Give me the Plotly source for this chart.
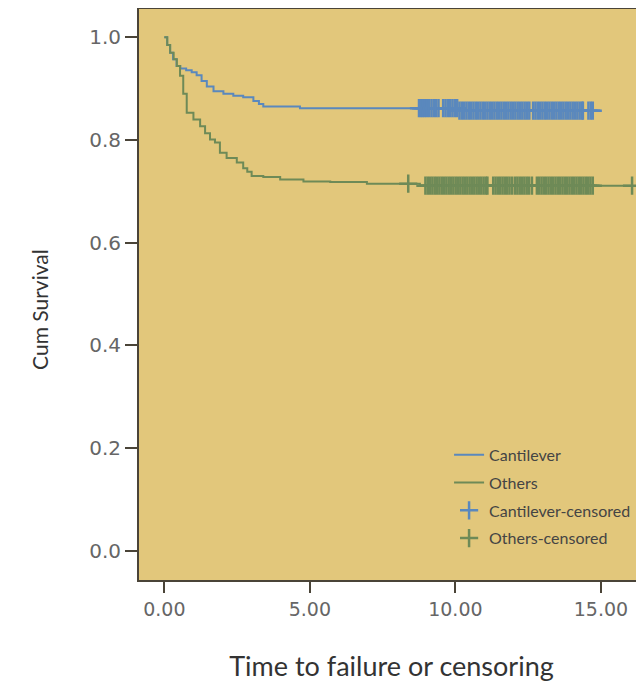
import plotly.graph_objects as go

# Kaplan-Meier step curves (time, cumulative survival)
cant_time = [0.0, 0.1, 0.2, 0.3, 0.42, 0.55, 0.75, 0.94, 1.11, 1.28, 1.46, 1.69, 2.03, 2.37, 2.71, 3.06, 3.25, 3.40, 4.66, 10.1, 15.0]
cant_surv = [1.0, 0.985, 0.97, 0.957, 0.944, 0.939, 0.936, 0.932, 0.926, 0.915, 0.904, 0.895, 0.890, 0.886, 0.883, 0.876, 0.870, 0.865, 0.862, 0.857, 0.857]

oth_time = [0.0, 0.1, 0.2, 0.32, 0.43, 0.54, 0.65, 0.77, 1.0, 1.23, 1.4, 1.57, 1.74, 1.91, 2.14, 2.49, 2.71, 2.85, 3.0, 3.4, 3.98, 4.78, 5.7, 6.96, 8.78, 16.07]
oth_surv = [1.0, 0.985, 0.97, 0.957, 0.944, 0.925, 0.89, 0.853, 0.840, 0.827, 0.813, 0.801, 0.795, 0.775, 0.765, 0.756, 0.745, 0.738, 0.730, 0.728, 0.723, 0.719, 0.718, 0.715, 0.711, 0.711]

# Censored observation times
cant_cens_time = [8.75, 8.82, 8.88, 8.95,
                  9.02, 9.1, 9.18, 9.26, 9.34, 9.42,
                  9.58, 9.66, 9.74, 9.82, 9.9, 9.98, 10.06, 10.14, 10.22, 10.3, 10.38, 10.46,
                  10.54, 10.62, 10.7, 10.78, 10.86, 10.94, 11.02, 11.1, 11.18, 11.26, 11.34,
                  11.42, 11.5, 11.58, 11.66, 11.74, 11.82, 11.9, 11.98, 12.06, 12.14, 12.22,
                  12.3, 12.38, 12.46, 12.54,
                  12.67, 12.75, 12.83, 12.91, 12.99, 13.07, 13.15, 13.23, 13.31, 13.39, 13.47,
                  13.55, 13.63, 13.71, 13.79, 13.87, 13.95, 14.03, 14.11, 14.19, 14.27, 14.35, 14.38,
                  14.57, 14.65, 14.72, 14.79,
                  14.97]
cant_cens_surv = [0.862] * 4 + [0.862] * 6 + [0.862] * 7 + [0.857] * 56 + [0.857]

oth_cens_time = [8.38,
                 8.97, 9.05, 9.13, 9.21, 9.29, 9.37, 9.45, 9.53, 9.61, 9.69, 9.77, 9.85, 9.93,
                 10.01, 10.09, 10.17, 10.25, 10.33, 10.41, 10.49, 10.57, 10.65, 10.73, 10.81,
                 10.89, 10.97, 11.05, 11.1,
                 11.3, 11.38, 11.46, 11.54, 11.62, 11.7, 11.78, 11.86, 11.95,
                 12.05, 12.13, 12.21, 12.29, 12.37, 12.45, 12.53, 12.63,
                 12.8, 12.88, 12.96, 13.04, 13.12, 13.2, 13.28, 13.36, 13.44, 13.52, 13.6,
                 13.68, 13.76, 13.84, 13.92, 14.0, 14.08, 14.16, 14.24, 14.32, 14.4, 14.48,
                 14.56, 14.64, 14.72,
                 16.07]
oth_cens_surv = [0.715] + [0.711] * (len(oth_cens_time) - 1)

x_tickvals = [0, 5, 10, 15]
x_ticktext = ["0.00", "5.00", "10.00", "15.00"]
y_tickvals = [0.0, 0.2, 0.4, 0.6, 0.8, 1.0]
y_ticktext = ["0.0", "0.2", "0.4", "0.6", "0.8", "1.0"]

blue = "#5a88bd"
green = "#6e8a57"
axis_col = "#4a4438"
title_font = "Lato, Open Sans, sans-serif"

fig = go.Figure()
fig.add_trace(go.Scatter(x=cant_time, y=cant_surv, mode="lines", line_shape="hv",
                         line=dict(color=blue, width=2), name="Cantilever", legendgroup="a"))
fig.add_trace(go.Scatter(x=oth_time, y=oth_surv, mode="lines", line_shape="hv",
                         line=dict(color=green, width=2), name="Others", legendgroup="b"))
fig.add_trace(go.Scatter(x=cant_cens_time, y=cant_cens_surv, mode="markers",
                         marker=dict(symbol="cross-thin", size=13, line=dict(color=blue, width=2.5)),
                         name="Cantilever-censored", legendgroup="c"))
fig.add_trace(go.Scatter(x=oth_cens_time, y=oth_cens_surv, mode="markers",
                         marker=dict(symbol="cross-thin", size=13, line=dict(color=green, width=2.5)),
                         name="Others-censored", legendgroup="d"))

fig.add_annotation(text="Cum Survival", xref="paper", yref="paper", x=-0.196, y=0.473,
                   xanchor="center", yanchor="middle", textangle=-90, showarrow=False,
                   font=dict(family=title_font, size=21, color="#333"))

fig.update_layout(
    width=636, height=676,
    margin=dict(l=131, r=0, t=1, b=104),
    paper_bgcolor="white",
    plot_bgcolor="#e2c77b",
    showlegend=True,
    legend=dict(x=0.614, y=0.249, xanchor="left", yanchor="top",
                bgcolor="rgba(0,0,0,0)", font=dict(family=title_font, size=16, color="#444"),
                tracegroupgap=4, itemwidth=30),
    xaxis=dict(range=[-0.87, 16.48], tickvals=x_tickvals, ticktext=x_ticktext,
               showgrid=False, zeroline=False, showline=True, linecolor=axis_col, linewidth=2,
               mirror=True, ticks="outside", ticklen=11, tickwidth=2, tickcolor=axis_col,
               tickfont=dict(family="DejaVu Sans", size=19, color="#666"),
               title=dict(text="Time to failure or censoring", standoff=38,
                          font=dict(family=title_font, size=27, color="#333"))),
    yaxis=dict(range=[-0.0565, 1.055], tickvals=y_tickvals, ticktext=y_ticktext,
               showgrid=False, zeroline=False, showline=True, linecolor=axis_col, linewidth=2,
               ticks="outside", ticklen=12, tickwidth=2, tickcolor=axis_col,
               tickfont=dict(family="DejaVu Sans", size=20, color="#666")),
)

fig.write_html("out.html")
